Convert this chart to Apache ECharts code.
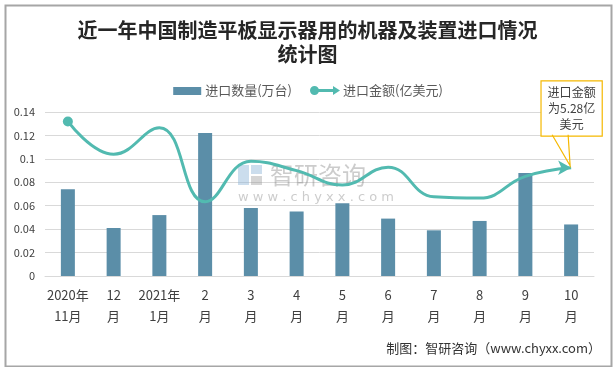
<!DOCTYPE html>
<html>
<head>
<meta charset="utf-8">
<script src="https://cdn.jsdelivr.net/npm/echarts@6/dist/echarts.min.js"></script>
<style>
html,body{margin:0;padding:0;background:#fff;}
#c{width:615px;height:367px;}
</style>
</head>
<body>
<div id="c"></div>
<script>
const categories = ['2020年\n11月','12\n月','2021年\n1月','2\n月','3\n月','4\n月','5\n月','6\n月','7\n月','8\n月','9\n月','10\n月'];
const quantity = [0.074,0.041,0.052,0.122,0.058,0.055,0.062,0.049,0.039,0.047,0.088,0.044];
const amount = [7.54,5.94,7.23,3.62,5.60,5.14,4.44,5.31,3.86,3.80,4.86,5.28];
const yTicks = {min:0, max:0.14, interval:0.02};
const y2Range = {min:0, max:8};

const FONT = '"Noto Sans CJK SC", sans-serif';
const lineColor = '#52bab0';
const barColor = '#5b8ea8';

const lineData = amount.map((v,i)=>{
  const d = {value:v};
  if(i===0){ d.symbol='circle'; d.symbolSize=10; }
  else if(i===amount.length-1){
    d.symbol='arrow'; d.symbolSize=[11,13]; d.symbolRotate=-90;
    d.label={show:true, position:'top', distance:28, offset:[7,3],
      formatter:(p)=>'进口金额\n为'+p.value+'亿\n美元',
      fontSize:12, lineHeight:16, color:'#404040', fontFamily:FONT,
      backgroundColor:'#fff', borderColor:'#f5b800', borderWidth:1.2, padding:[3,6]};
  }
  else { d.symbol='none'; }
  return d;
});

const chart = echarts.init(document.getElementById('c'));
chart.setOption({
  animation:false,
  backgroundColor:'#fff',
  title:{
    text:'近一年中国制造平板显示器用的机器及装置进口情况\n统计图',
    left:'center', top:13,
    textStyle:{fontSize:20, fontWeight:'bold', color:'#262626', lineHeight:24, fontFamily:FONT}
  },
  legend:{
    top:79, left:'center', itemGap:18,
    textStyle:{fontSize:13, color:'#595959', fontFamily:FONT, padding:[0,0,0,-2]},
    data:[
      {name:'进口数量(万台)', icon:'path://M0,0L0.01,0M0,24L0.01,24M60,0L60,0.01M2,5L58,5L58,21L2,21Z', itemStyle:{color:barColor}},
      {name:'进口金额(亿美元)', icon:'path://M9,3A9,9,0,1,1,9,21A9,9,0,1,1,9,3ZM14,9L46,9L46,3L60,12L46,21L46,15L14,15Z', itemStyle:{color:lineColor}}
    ],
    itemWidth:30, itemHeight:12
  },
  grid:{left:45, right:21, top:112, bottom:91},
  xAxis:{
    type:'category', data:categories,
    axisLine:{lineStyle:{color:'#d9d9d9'}},
    axisTick:{show:false},
    axisLabel:{fontSize:13, color:'#404040', lineHeight:21, margin:9, interval:0, fontFamily:FONT}
  },
  yAxis:[
    {type:'value', min:yTicks.min, max:yTicks.max, interval:yTicks.interval,
     axisLine:{show:false}, axisTick:{show:false},
     splitLine:{lineStyle:{color:'#d9d9d9'}},
     axisLabel:{fontSize:11, color:'#404040', margin:10, fontFamily:FONT}},
    {type:'value', min:y2Range.min, max:y2Range.max, show:false, splitLine:{show:false}}
  ],
  series:[
    {name:'进口数量(万台)', type:'bar', data:quantity, barWidth:14, itemStyle:{color:barColor}, z:2},
    {name:'进口金额(亿美元)', type:'line', yAxisIndex:1, data:lineData, smooth:0.45,
     lineStyle:{color:lineColor, width:3}, itemStyle:{color:lineColor}, z:3}
  ]
});

const last = amount.length-1;
const pt = chart.convertToPixel({xAxisIndex:0, yAxisIndex:1}, [last, amount[last]]);
chart.setOption({
  graphic:[
    {type:'rect', left:3, top:3, shape:{width:606, height:361}, style:{fill:'none', stroke:'#a6a6a6', lineWidth:2}, silent:true, z:100},
    {type:'polyline', shape:{points:[[pt[0]-19, pt[1]-33],[pt[0]-1, pt[1]-2],[pt[0]-3, pt[1]-33]]}, style:{stroke:'#f5b800', lineWidth:1.2, fill:null}, z:50},
    {type:'group', left:238, top:163, silent:true, z:1, children:[
      {type:'rect', shape:{x:0,y:2,width:11,height:20}, style:{fill:'rgba(140,180,215,0.45)'}},
      {type:'rect', shape:{x:13,y:2,width:11,height:9}, style:{fill:'rgba(140,180,215,0.45)'}},
      {type:'rect', shape:{x:13,y:13,width:11,height:9}, style:{fill:'rgba(150,150,150,0.4)'}},
      {type:'text', x:32, y:0, style:{text:'智研咨询', font:'24px "Noto Sans CJK SC"', fill:'rgba(120,120,120,0.38)'}},
      {type:'text', x:0, y:28, style:{text:'w w w . c h y x x . c o m', font:'13px "DejaVu Sans"', fill:'rgba(120,120,120,0.38)'}}
    ]},
    {type:'text', right:14, bottom:12, style:{text:'制图：智研咨询（www.chyxx.com）', font:'13px "Noto Sans CJK SC"', fill:'#333'}}
  ]
});
</script>
</body>
</html>
